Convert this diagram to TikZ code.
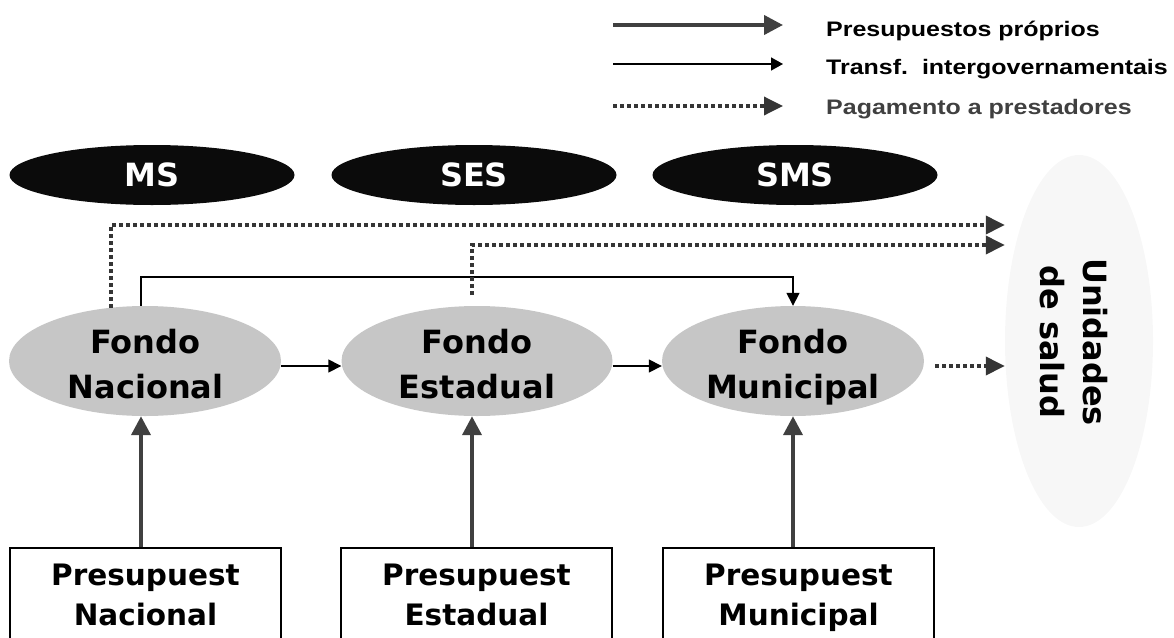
\documentclass[tikz,border=0pt]{standalone}
\usepackage{fontspec}
\setmainfont{DejaVu Sans}
\newfontfamily\legfont[FakeStretch=1.19]{Liberation Sans}
\usetikzlibrary{arrows.meta,shapes.geometric}
\definecolor{blk}{HTML}{0B0B0B}
\definecolor{fondogray}{HTML}{C6C6C6}
\definecolor{unigray}{HTML}{F7F7F7}
\definecolor{owngray}{HTML}{404040}
\definecolor{paygray}{HTML}{353535}
\definecolor{legthird}{HTML}{404040}
\begin{document}
\begin{tikzpicture}[x=1pt,y=-1pt,
  govel/.style={ellipse, fill=blk, minimum width=285pt, minimum height=60pt, inner sep=0pt,
    text=white, font=\fontsize{32}{38}\selectfont\bfseries},
  fondo/.style={ellipse, fill=fondogray, minimum height=110pt, inner sep=0pt},
  ftext/.style={align=center, inner sep=0pt, anchor=north, font=\fontsize{32}{45}\selectfont\bfseries},
  unid/.style={ellipse, fill=unigray, minimum width=148pt, minimum height=372pt, inner sep=0pt},
  utext/.style={align=center, inner sep=0pt, rotate=-90, font=\fontsize{32}{43}\selectfont\bfseries},
  presbox/.style={draw=black, line width=1.2pt, fill=white, minimum width=271pt, minimum height=120pt, inner sep=0pt},
  ptext/.style={align=center, inner sep=0pt, anchor=north, font=\fontsize{29.5}{40}\selectfont\bfseries},
  own/.style={draw=owngray, line width=4pt, -{Triangle[length=19pt,width=19pt]}},
  transf/.style={draw=black, line width=1.5pt, -{Triangle[length=13pt,width=13pt]}},
  pay/.style={draw=paygray, line width=3.5pt, dash pattern=on 4pt off 3pt, -{Triangle[length=19pt,width=18pt]}},
  legtext/.style={inner sep=0pt, anchor=base west, font=\legfont\bfseries\fontsize{21}{25}\selectfont}
]
\useasboundingbox (0,0) rectangle (1174,637);
\clip (0,0) rectangle (1174,637);

% legend
\coordinate (L1a) at (613,25);  \coordinate (L1b) at (783,25);
\coordinate (L2a) at (613,64);  \coordinate (L2b) at (783,64);
\coordinate (L3a) at (613,106); \coordinate (L3b) at (783,106);
\draw[own] (L1a) -- (L1b);
\draw[transf, -{Triangle[length=12pt,width=13pt]}] (L2a) -- (L2b);
\draw[pay] (L3a) -- (L3b);
\node[legtext] (T1) at (826,36) {Presupuestos próprios};
\node[legtext] (T2) at (826,74) {Transf.\ \ intergovernamentais};
\node[legtext, text=legthird] (T3) at (826,114) {Pagamento a prestadores};

% government bodies
\node[govel] (MS) at (152,175) {MS};
\node[govel] (SES) at (474,175) {SES};
\node[govel] (SMS) at (795,175) {SMS};

% health units
\node[unid] (U) at (1079,341) {};
\node[utext] (Ut) at (1074,342) {Unidades\\de salud};

% funds
\node[fondo, minimum width=272pt] (FN) at (145,361) {};
\node[fondo, minimum width=271pt] (FE) at (477,361) {};
\node[fondo, minimum width=262pt] (FM) at (793,361) {};
\node[ftext] (FNt) at (145.5,328) {\rule{0pt}{25pt}Fondo\\Nacional};
\node[ftext] (FEt) at (477,328) {\rule{0pt}{25pt}Fondo\\Estadual};
\node[ftext] (FMt) at (793,328) {\rule{0pt}{25pt}Fondo\\Municipal};

% budgets
\node[presbox] (PN) at (145.5,608) {};
\node[presbox] (PE) at (476.5,608) {};
\node[presbox] (PM) at (798.5,608) {};
\node[ptext] (PNt) at (145.5,560) {\rule{0pt}{25pt}Presupuest\\Nacional};
\node[ptext] (PEt) at (476.5,560) {\rule{0pt}{25pt}Presupuest\\Estadual};
\node[ptext] (PMt) at (798.5,560) {\rule{0pt}{25pt}Presupuest\\Municipal};

% own budgets
\draw[own] ([xshift=-4pt]FN.south |- PN.north) -- ([xshift=-4pt]FN.south);
\draw[own] ([xshift=-5pt]FE.south |- PE.north) -- ([xshift=-5pt]FE.south);
\draw[own] (FM.south |- PM.north) -- (FM.south);

% transfers
\draw[transf] ([yshift=-5pt]FN.east) -- ([yshift=-5pt]FE.west);
\draw[transf] ([yshift=-5pt]FE.east) -- ([yshift=-5pt]FM.west);
\coordinate (y277) at (0,277);
\draw[transf] ([xshift=-4pt]FN.north) |- (FM.north |- y277) -- (FM.north);

% payments
\coordinate (y225) at (0,225);
\coordinate (y245) at (0,245);
\coordinate (D2s) at (472,295);
\coordinate (D3s) at (935,366);
\draw[pay] ([xshift=-34pt,yshift=-2pt]FN.north) |- (U.west |- y225);
\draw[pay] (D2s) |- (U.west |- y245);
\draw[pay] (D3s) -- (U.west |- D3s);
\end{tikzpicture}
\end{document}
